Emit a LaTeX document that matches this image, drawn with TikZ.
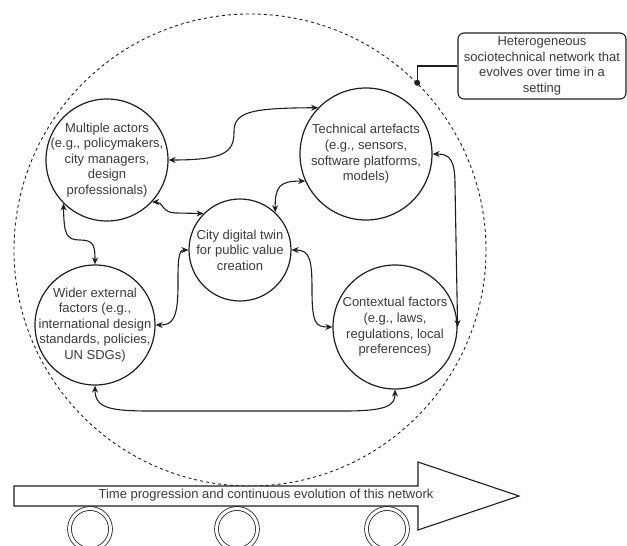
\documentclass[tikz,border=0pt]{standalone}
\usepackage{fontspec}
\setmainfont{Liberation Sans}
\usepackage{tikz}
\usetikzlibrary{arrows.meta}
\definecolor{inkline}{HTML}{1E1E1E}
\definecolor{inktext}{HTML}{3A3A3A}

\begin{document}
\begin{tikzpicture}[x=1pt,y=-1pt,
  bubble/.style={circle,draw=inkline,line width=1.2pt,inner sep=-20pt,align=center,text=inktext,font=\fontsize{13}{15.6}\selectfont},
  link/.style={{Stealth[length=7pt,width=6pt]}-{Stealth[length=7pt,width=6pt]},draw=inkline,line width=1.1pt},
  wheel/.style={circle,draw=inkline,line width=0.8pt,double,double distance=3pt,minimum size=41pt,inner sep=0pt}]
  \useasboundingbox (0,0) rectangle (627,546);

  % the network boundary
  \node[circle,draw=inkline,line width=0.9pt,dash pattern=on 3pt off 3pt,minimum size=472pt,inner sep=0pt] (net) at (250,250) {};

  \node[bubble,minimum size=122pt] (ma) at (107,160) {Multiple actors\\(e.g., policymakers,\\city managers,\\design\\professionals)};
  \node[bubble,minimum size=132pt] (ta) at (366,154) {Technical artefacts\\(e.g., sensors,\\software platforms,\\models)};
  \node[bubble,minimum size=102pt] (cdt) at (240,250) {City digital twin\\for public value\\creation};
  \node[bubble,minimum size=120pt] (wef) at (95,325) {Wider external\\factors (e.g.,\\international design\\standards, policies,\\UN SDGs)};
  \node[bubble,minimum size=124pt] (cf) at (395,327) {Contextual factors\\(e.g., laws,\\regulations, local\\preferences)};

  % callout
  \node[draw=inkline,line width=1.1pt,rounded corners=6pt,minimum width=168pt,minimum height=66pt,align=center,text=inktext,font=\fontsize{13}{15.6}\selectfont] (het) at (542,66) {Heterogeneous\\sociotechnical network that\\evolves over time in a\\setting};
  \draw[inkline,line width=1.1pt] (het.west) -| (net.45);
  \fill[inkline] (net.45) circle (3pt);

  % links between the elements
  \draw[link] (ma.east) .. controls (225,160) and (234,152) .. (234,132) .. controls (234,112) and (250,108) .. (ta.136);
  \draw[link] (ma.-43) .. controls (163,202) and (162,213) .. (176,213) -- (cdt.135);
  \draw[link] (cdt.47) .. controls (275,186) and (280,181) .. (ta.-156);
  \draw[link] (ma.-135) .. controls (64,234) and (66,240) .. (80,240) .. controls (94,240) and (95,246) .. (wef.north);
  \draw[link] (cdt.west) .. controls (178,250) and (178,262) .. (178,285) .. controls (178,320) and (172,325) .. (wef.east);
  \draw[link] (cdt.east) .. controls (310,250) and (312,260) .. (312,290) .. controls (312,324) and (316,327) .. (cf.west);
  \draw[link] (ta.east) .. controls (450,154) and (455,160) .. (455,185) -- (cf.east);
  \draw[link] (wef.south) .. controls (95,408) and (110,411) .. (150,411) -- (345,411) .. controls (388,411) and (395,405) .. (cf.south);

  % time arrow and wheels
  \draw[inkline,line width=1.1pt,fill=white] (14,486) -- (418,486) -- (418,462) -- (519,496) -- (418,530) -- (418,506) -- (14,506) -- cycle;
  \node[text=inktext,font=\fontsize{13}{15.6}\selectfont] (timetxt) at (266,495) {Time progression and continuous evolution of this network};
  \foreach \x [count=\i] in {90,237,387}
    \node[wheel] (wheel\i) at (\x,529) {};
\end{tikzpicture}
\end{document}
